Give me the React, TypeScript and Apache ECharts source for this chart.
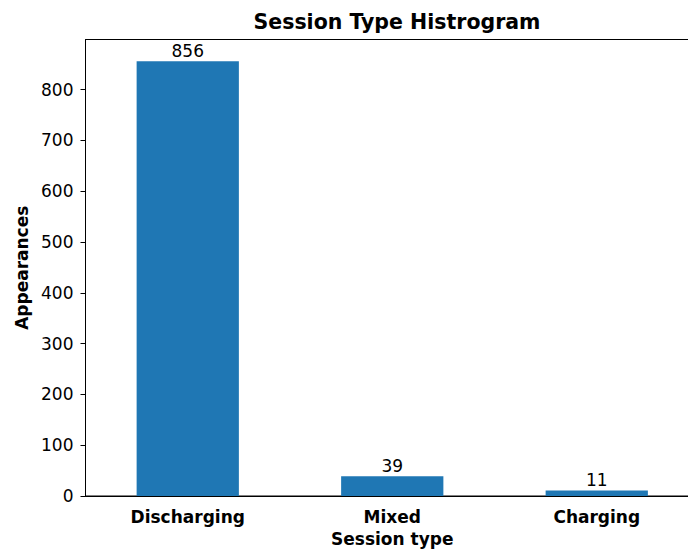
import React, { useEffect, useRef } from "react";
import * as echarts from "echarts";

const categories = ["Discharging", "Mixed", "Charging"];
const appearances = [856, 39, 11];
const yTicks = [0, 100, 200, 300, 400, 500, 600, 700, 800];

const FONT = "DejaVu Sans";

export default function App() {
  const ref = useRef<HTMLDivElement>(null);

  useEffect(() => {
    if (!ref.current) return;
    const chart = echarts.init(ref.current, undefined, { renderer: "svg" });
    // headroom above the tallest bar, like a 5% margin
    const yMax = Math.max(...appearances) * 1.05;
    chart.setOption({
      animation: false,
      backgroundColor: "#ffffff",
      title: {
        text: "Session Type Histrogram",
        left: 392,
        top: 6,
        textAlign: "center",
        textStyle: { fontFamily: FONT, fontSize: 20.5, fontWeight: "bold", color: "#000" },
      },
      grid: {
        left: 85.5,
        top: 39.5,
        right: 0,
        bottom: 55.3,
        show: true,
        borderColor: "#000",
        borderWidth: 1,
        backgroundColor: "transparent",
        containLabel: false,
      },
      xAxis: {
        type: "category",
        data: categories,
        name: "Session type",
        nameLocation: "middle",
        nameGap: 34,
        nameTextStyle: { fontFamily: FONT, fontSize: 17, fontWeight: "bold", color: "#000" },
        axisLine: { lineStyle: { color: "#000", width: 1 } },
        axisTick: { alignWithLabel: true, length: 5, lineStyle: { color: "#000" } },
        axisLabel: { fontFamily: FONT, fontSize: 17, fontWeight: "bold", color: "#000", margin: 12 },
        splitLine: { show: false },
      },
      yAxis: {
        type: "value",
        min: 0,
        max: yMax,
        name: "Appearances",
        nameLocation: "middle",
        nameGap: 55,
        nameTextStyle: { fontFamily: FONT, fontSize: 17, fontWeight: "bold", color: "#000" },
        axisLine: { show: true, lineStyle: { color: "#000", width: 1 } },
        axisTick: { show: true, length: 5, lineStyle: { color: "#000" }, customValues: yTicks },
        axisLabel: {
          fontFamily: FONT,
          fontSize: 17,
          color: "#000",
          margin: 12,
          customValues: yTicks,
        },
        splitLine: { show: false },
      },
      series: [
        {
          type: "bar",
          data: appearances,
          barWidth: "50%",
          itemStyle: { color: "#1f77b4" },
          label: {
            show: true,
            position: "top",
            distance: 2,
            fontFamily: FONT,
            fontSize: 17,
            color: "#000",
          },
        },
      ],
    });
    return () => chart.dispose();
  }, []);

  return (
    <div style={{ position: "fixed", left: 0, top: 0, width: 688, height: 552, overflow: "hidden", background: "#fff" }}>
      <div ref={ref} style={{ width: 699, height: 552 }} />
    </div>
  );
}
